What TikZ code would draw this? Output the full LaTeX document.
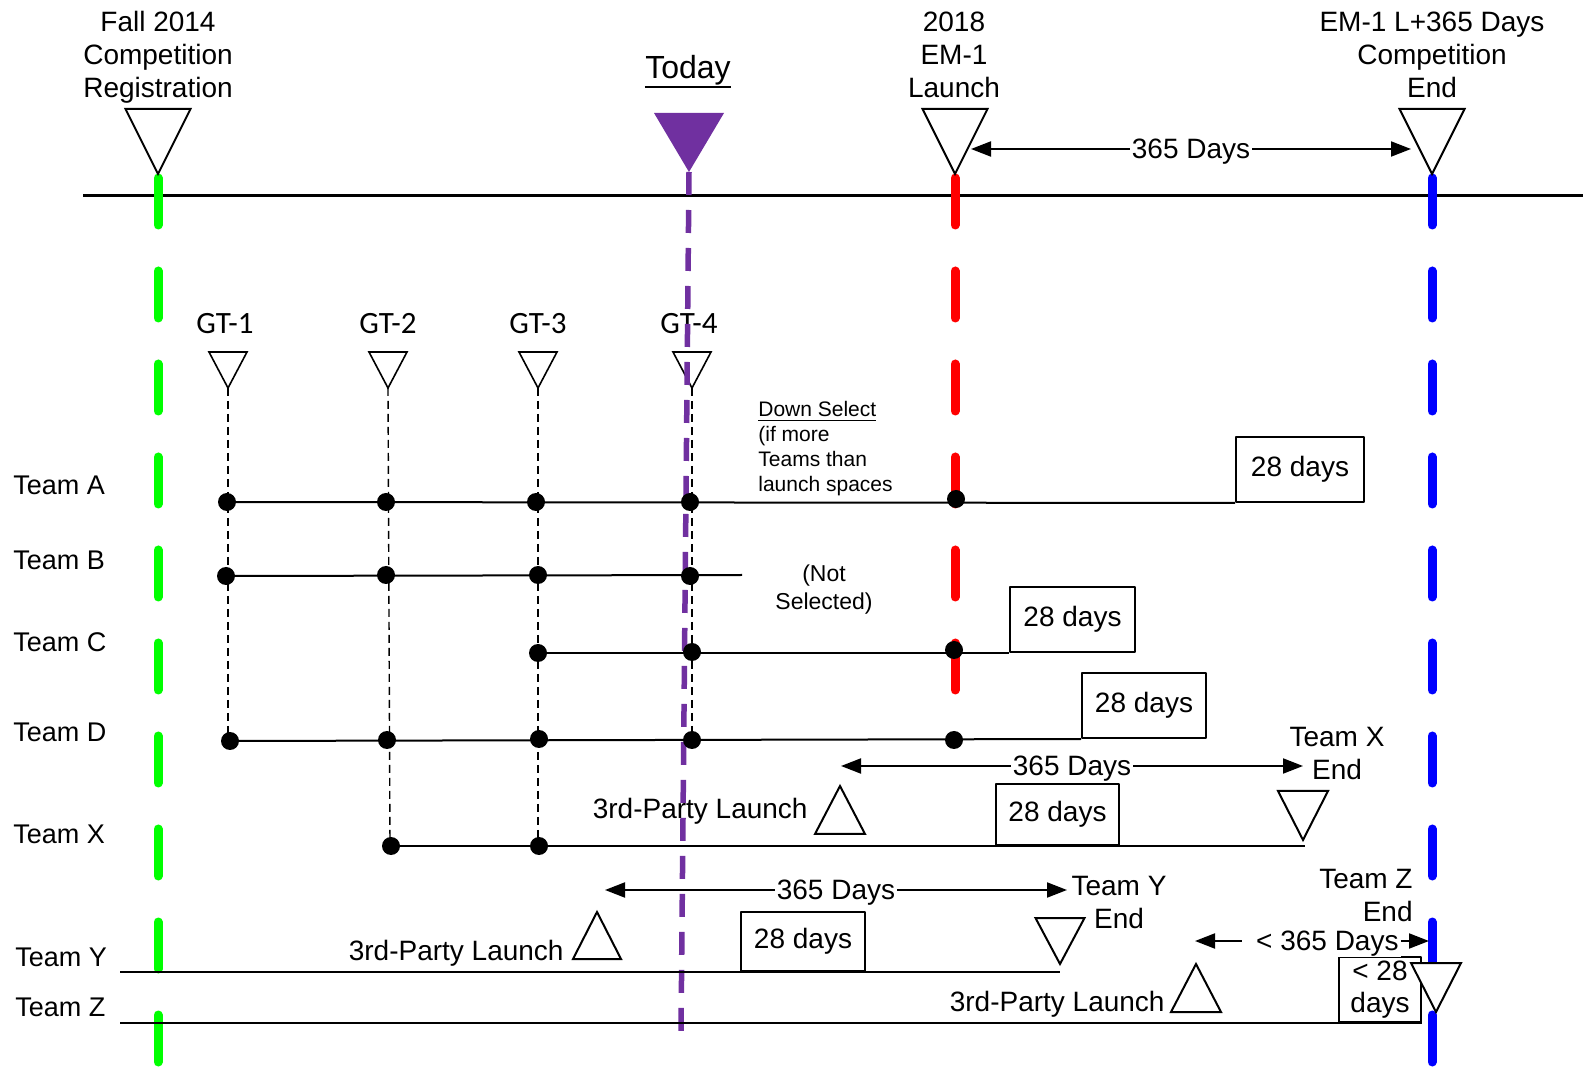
\documentclass[tikz,border=0pt]{standalone}
\usepackage{fontspec}
\setmainfont{Liberation Sans}
\newfontfamily\gtfont{Carlito}
\usetikzlibrary{arrows.meta}
\definecolor{todaypurple}{HTML}{7030A0}
\definecolor{regreen}{HTML}{00FF00}
\tikzset{
  lbl/.style={font=\fontsize{14}{16.5}\selectfont, align=center, inner sep=0pt},
  teamlbl/.style={font=\fontsize{13.5}{15}\selectfont, anchor=west, inner sep=0pt},
  gtlbl/.style={font=\gtfont\fontsize{15.5}{18}\selectfont, inner sep=0pt},
  note/.style={font=\fontsize{10.5}{12.5}\selectfont, align=left, inner sep=0pt},
  daysbox/.style={draw, line width=1pt, inner sep=0pt, font=\fontsize{14}{16}\selectfont, align=center},
  tri/.style={draw, line width=1pt, line join=miter},
  smalltri/.style={draw, line width=0.8pt, line join=miter},
  era/.style={line width=4.5pt, line cap=round, dash pattern=on 23.5pt off 23pt},
  row/.style={line width=1pt},
  gtline/.style={line width=0.7pt, dash pattern=on 4pt off 2.5pt},
  span/.style={line width=1pt, {Triangle[length=10pt,width=7.5pt]}-{Triangle[length=10pt,width=7.5pt]}},
  spanlbl/.style={fill=white, inner xsep=1pt, inner ysep=0pt, yshift=-1.5pt, font=\fontsize{14}{16}\selectfont}
}
\begin{document}
\begin{tikzpicture}[x=0.5pt, y=-0.5pt, line join=round]
  \useasboundingbox (0,0) rectangle (1586,1074);

  % milestones on the main timeline
  \coordinate (fall) at (158,174);
  \coordinate (today) at (689,172);
  \coordinate (em) at (955,174);
  \coordinate (fin) at (1432,174);
  \coordinate (tlL) at (83,196);
  \coordinate (tlR) at (1583,196);

  \draw[line width=1.5pt] (tlL)--(tlR);

  \draw[era, regreen] (158,178)--(158,1066);
  \draw[era, red] (955,178)--(955,692);
  \draw[era, blue] (1432,178)--(1432,1066);

  \node[lbl] (fallLbl) at (158,57) {Fall 2014\\Competition\\Registration};
  \node[lbl] (emLbl) at (954,55) {2018\\EM-1\\Launch};
  \node[lbl] (endLbl) at (1432,55) {EM-1 L+365 Days\\Competition\\End};
  \node[lbl, font=\fontsize{16}{18}\selectfont] (todayLbl) at (688,70) {Today};
  \draw[line width=1.1pt] ([yshift=-1pt]todayLbl.south west)--([yshift=-1pt]todayLbl.south east);

  \draw[tri] (fall)--++(-32.5,-65)--++(65,0)--cycle;
  \draw[tri] (em)--++(-32.5,-65)--++(65,0)--cycle;
  \draw[tri] (fin)--++(-32.5,-65)--++(65,0)--cycle;
  \fill[todaypurple] (today)--++(-35,-59)--++(70,0)--cycle;

  \coordinate (spanL) at (971,149);
  \coordinate (spanR) at (1411,149);
  \draw[span] (spanL)--(spanR) node[spanlbl, midway] (spanLbl) {365 Days};

  % gate reviews
  \coordinate (g1) at (228,388);
  \coordinate (g2) at (388,388);
  \coordinate (g3) at (538,388);
  \coordinate (g4) at (692,388);
  \node[gtlbl] (gt1) at (225,324) {GT-1};
  \node[gtlbl] (gt2) at (388,324) {GT-2};
  \node[gtlbl] (gt3) at (538,324) {GT-3};
  \node[gtlbl] (gt4) at (689,324) {GT-4};
  \draw[smalltri] (g1)--++(-19,-36)--++(38,0)--cycle;
  \draw[smalltri] (g2)--++(-19,-36)--++(38,0)--cycle;
  \draw[smalltri] (g3)--++(-19,-36)--++(38,0)--cycle;
  \draw[smalltri] (g4)--++(-19,-36)--++(38,0)--cycle;

  \draw[gtline] (g1)--(228,741);
  \draw[gtline] (g2)--(390,846);
  \draw[gtline] (g3)--(538,846);
  \draw[gtline] (g4)--(692,741);

  \draw[line width=2.75pt, todaypurple, dash pattern=on 11.5pt off 7.5pt] (today)--(681,1034);

  % teams
  \node[teamlbl] (teamA) at (13,485) {Team A};
  \node[teamlbl] (teamB) at (13,560) {Team B};
  \node[teamlbl] (teamC) at (13,642) {Team C};
  \node[teamlbl] (teamD) at (13,732) {Team D};
  \node[teamlbl] (teamX) at (13,834) {Team X};
  \node[teamlbl] (teamY) at (15,957) {Team Y};
  \node[teamlbl] (teamZ) at (15,1007) {Team Z};

  \node[daysbox, minimum width=64pt, minimum height=32.5pt] (boxA) at (1300,469.5) {28 days};
  \node[daysbox, minimum width=62.5pt, minimum height=32.5pt] (boxC) at (1072.5,619.5) {28 days};
  \node[daysbox, minimum width=62pt, minimum height=32.5pt] (boxD) at (1144,705.5) {28 days};
  \node[daysbox, minimum width=61.5pt, minimum height=30.5pt] (boxX) at (1057.5,814.5) {28 days};
  \node[daysbox, minimum width=62pt, minimum height=29.5pt] (boxY) at (803,941.5) {28 days};
  \node[daysbox, minimum width=41pt, minimum height=32.5pt] (boxZ) at (1380,989.5) {< 28\\days};

  % Team A
  \coordinate (a1) at (227,502);
  \coordinate (a2) at (386,502);
  \coordinate (a3) at (536,502);
  \coordinate (a4) at (690,502);
  \coordinate (a5) at (956,499);
  \draw[row] (a1)--(boxA.south west);
  \fill (a1) circle (9) (a2) circle (9) (a3) circle (9) (a4) circle (9) (a5) circle (9);

  \node[note, anchor=west] (downSel) at (758,449) {\underline{Down Select}\\(if more\\Teams than\\launch spaces};

  % Team B
  \coordinate (b1) at (226,576);
  \coordinate (b2) at (386,575);
  \coordinate (b3) at (538,575);
  \coordinate (b4) at (690,576);
  \coordinate (bEnd) at (742,575);
  \draw[row] (b1)--(bEnd);
  \fill (b1) circle (9) (b2) circle (9) (b3) circle (9) (b4) circle (9);
  \node[lbl, font=\fontsize{11.5}{14}\selectfont] (notSel) at (824,590) {(Not\\Selected)};

  % Team C
  \coordinate (c1) at (538,653);
  \coordinate (c2) at (692,652);
  \coordinate (c3) at (954,650);
  \draw[row] (c1)--(boxC.south west);
  \fill (c1) circle (9) (c2) circle (9) (c3) circle (9);

  % Team D
  \coordinate (d1) at (230,741);
  \coordinate (d2) at (387,740);
  \coordinate (d3) at (539,739);
  \coordinate (d4) at (692,740);
  \coordinate (d5) at (954,740);
  \draw[row] (d1)--(boxD.south west);
  \fill (d1) circle (9) (d2) circle (9) (d3) circle (9) (d4) circle (9) (d5) circle (9);

  % Team X
  \coordinate (x1) at (391,846);
  \coordinate (x2) at (539,846);
  \coordinate (xEnd) at (1305,846);
  \draw[row] (x1)--(xEnd);
  \fill (x1) circle (9) (x2) circle (9);
  \node[lbl, anchor=east] (launchX) at (808,811) {3rd-Party Launch};
  \draw[tri] (840,786)--++(-25,48)--++(50,0)--cycle;
  \draw[tri] (1303,840)--++(-25,-49)--++(50,0)--cycle;
  \node[lbl] (endX) at (1337,754) {Team X\\End};
  \coordinate (xSpanL) at (841,766);
  \coordinate (xSpanR) at (1303,766);
  \draw[span] (xSpanL)--(xSpanR) node[spanlbl, midway] (xSpanLbl) {365 Days};

  % Team Y
  \coordinate (yStart) at (120,972);
  \coordinate (yEnd) at (1060,972);
  \draw[row] (yStart)--(yEnd);
  \node[lbl, anchor=east] (launchY) at (564,953) {3rd-Party Launch};
  \draw[tri] (597,912)--++(-24,47)--++(48,0)--cycle;
  \draw[tri] (1060,964)--++(-24.5,-46)--++(49,0)--cycle;
  \node[lbl] (endY) at (1119,903) {Team Y\\End};
  \coordinate (ySpanL) at (605,890);
  \coordinate (ySpanR) at (1067,890);
  \draw[span] (ySpanL)--(ySpanR) node[spanlbl, midway] (ySpanLbl) {365 Days};

  % Team Z
  \coordinate (zStart) at (120,1023);
  \draw[row] (zStart)--(boxZ.south east);
  \node[lbl, anchor=east] (launchZ) at (1165,1004) {3rd-Party Launch};
  \draw[tri] (1196,964)--++(-25,48)--++(50,0)--cycle;
  \draw[tri, fill=white] (1436,1012)--++(-25,-49)--++(50,0)--cycle;
  \node[lbl, align=right, anchor=east] (endZ) at (1413,896) {Team Z\\End};
  \coordinate (zSpanL) at (1195,941);
  \coordinate (zSpanR) at (1429,941);
  \draw[span] (zSpanL)--(zSpanR) node[spanlbl, pos=0.54] (zSpanLbl) {\hspace{6pt}< 365 Days};
\end{tikzpicture}
\end{document}
